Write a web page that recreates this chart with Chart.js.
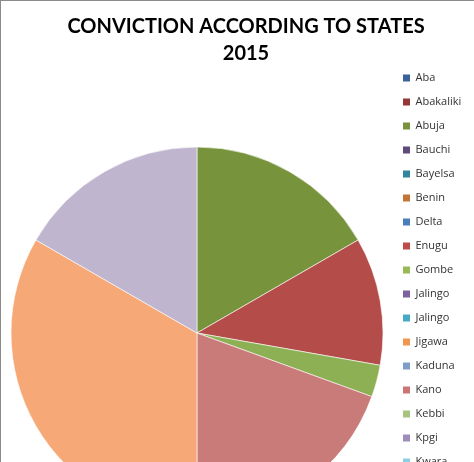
<!DOCTYPE html>
<html lang="en">
<head>
  <meta charset="UTF-8">
  <title>Conviction According To States 2015</title>
  <style>
    body { margin: 0; background: #fff; }
    .wrap { position: relative; width: 474px; height: 462px; overflow: hidden; }
    .frame {
      position: absolute; left: 0; top: 0; width: 474px; height: 462px;
      box-sizing: border-box; border-top: 1px solid #8a8a8a; border-left: 1px solid #8a8a8a;
      pointer-events: none;
    }
    canvas { position: absolute; left: 0; top: 0; }
  </style>
</head>
<body>

<div class="wrap">
  <canvas id="pieChart" width="488" height="610"></canvas>
  <div class="frame"></div>
</div>

<script src="https://cdn.jsdelivr.net/npm/chart.js"></script>
<script>
  // chart data (slices run clockwise from 12 o'clock)
  const states = ['Aba', 'Abakaliki', 'Abuja', 'Bauchi', 'Bayelsa', 'Benin', 'Delta', 'Enugu',
    'Gombe', 'Jalingo', 'Jalingo', 'Jigawa', 'Kaduna', 'Kano', 'Kebbi', 'Kpgi', 'Kwara'];
  const convictions = [0, 0, 6, 0, 0, 0, 0, 4, 1, 0, 0, 7, 0, 12, 0, 6, 0];
  const titleLines = ['CONVICTION ACCORDING TO STATES', '2015'];

  // slice colours as drawn in the pie, and the legend swatch colours
  const sliceColors = ['#3b6399', '#953735', '#77933c', '#604a7b', '#31859c', '#c3722f', '#4a7ebb', '#b44d49',
    '#8eb054', '#7d60a0', '#46aac5', '#c97b7a', '#7f9dc9', '#f6a977', '#a9c482', '#c0b5cf', '#8ccfe0'];
  const legendColors = ['#3b6399', '#953735', '#77933c', '#604a7b', '#31859c', '#c27535', '#4a7ebb', '#be4b48',
    '#98b954', '#7d60a0', '#46aac5', '#f0964e', '#7f9dc9', '#cc7574', '#a9c482', '#9e8dba', '#8ccfe0'];

  // widen the legend box so the title centres like the original
  const legendWidth = {
    id: 'legendWidth',
    beforeInit(chart) {
      const fit = chart.legend.fit;
      chart.legend.fit = function () {
        fit.bind(chart.legend)();
        this.width = 98;
      };
    }
  };

  document.addEventListener('DOMContentLoaded', function () {
    const ctx = document.getElementById('pieChart').getContext('2d');

    new Chart(ctx, {
      type: 'pie',
      data: {
        labels: states,
        datasets: [{
          data: convictions,
          backgroundColor: sliceColors,
          borderColor: '#ffffff',
          borderWidth: 0.6
        }]
      },
      options: {
        responsive: false,
        animation: false,
        radius: 186,
        layout: { padding: { left: 4, right: 0, top: 0, bottom: 3.5 } },
        plugins: {
          title: {
            display: true,
            text: titleLines,
            color: '#000',
            font: { family: 'Lato', size: 20, weight: 'bold', lineHeight: 1.35 },
            padding: { top: 13.5, bottom: -8 }
          },
          legend: {
            position: 'right',
            align: 'start',
            fullSize: false,
            labels: {
              boxWidth: 7,
              boxHeight: 7,
              padding: 13,
              color: '#333',
              font: { family: 'Open Sans', size: 11 },
              generateLabels: function (chart) {
                const items = Chart.overrides.pie.plugins.legend.labels.generateLabels(chart);
                items.forEach((item, i) => {
                  item.fillStyle = legendColors[i];
                  item.strokeStyle = legendColors[i];
                  item.lineWidth = 0;
                  item.hidden = false;
                });
                return items;
              }
            }
          },
          tooltip: { enabled: false }
        }
      },
      plugins: [legendWidth]
    });
  });
</script>

</body>
</html>
